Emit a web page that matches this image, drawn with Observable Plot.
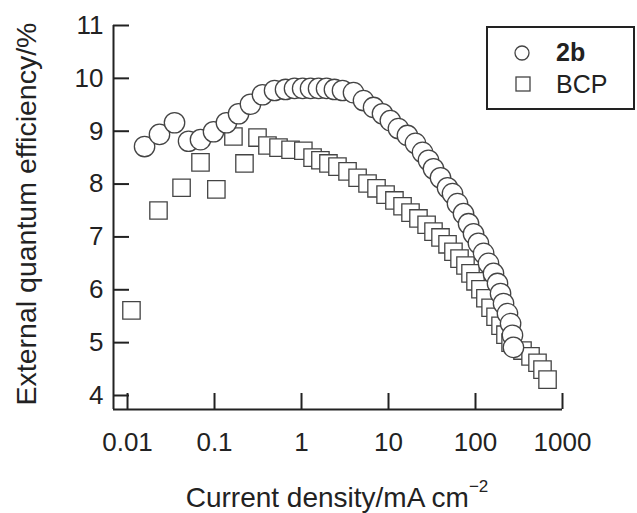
<!DOCTYPE html>
<html><head><meta charset="utf-8">
<script src="https://cdn.jsdelivr.net/npm/d3@7"></script>
<script src="https://cdn.jsdelivr.net/npm/@observablehq/plot@0.6"></script>
<style>
body{margin:0;background:#fff;}
#chart{position:relative;width:637px;height:513px;}
</style></head><body><div id="chart"></div>
<script>
const seriesNames = ["2b", "BCP"];
const x2b = [0.0157,0.0233,0.0347,0.0503,0.0690,0.0974,0.137,0.189,0.259,0.356,0.490,0.655,0.831,1.03,1.27,1.57,1.94,2.39,2.96,3.96,5.16,6.73,8.53,10.5,13.0,16.5,20.4,24.6,28.8,32.9,39.6,47.7,54.4,62.1,72.8,83.2,94.9,108,124,141,161,179,194,210,233,253,266,273];
const y2b = [8.71,8.94,9.16,8.81,8.84,8.99,9.16,9.33,9.51,9.69,9.77,9.79,9.81,9.81,9.81,9.81,9.81,9.79,9.77,9.73,9.58,9.45,9.33,9.20,9.05,8.92,8.77,8.60,8.45,8.29,8.12,7.93,7.82,7.63,7.44,7.25,7.06,6.88,6.69,6.50,6.31,6.12,5.93,5.74,5.55,5.36,5.14,4.91];
const xBCP = [0.0111,0.0227,0.0418,0.0690,0.105,0.165,0.221,0.312,0.406,0.544,0.748,1.05,1.34,1.65,2.04,2.59,3.38,4.41,5.74,7.28,9.25,11.7,14.5,17.9,22.1,27.4,32.9,39.6,47.7,55.8,65.5,76.7,87.6,100,114,130,149,170,194,221,253,347,429,516,589,673];
const yBCP = [5.61,7.50,7.93,8.41,7.90,8.90,8.39,8.88,8.73,8.69,8.65,8.63,8.50,8.45,8.39,8.33,8.24,8.12,8.01,7.92,7.80,7.69,7.58,7.46,7.35,7.23,7.10,6.99,6.86,6.72,6.59,6.46,6.31,6.16,6.01,5.84,5.66,5.49,5.32,5.15,5.00,4.85,4.74,4.62,4.49,4.30];
const xTicks = [0.01, 0.1, 1, 10, 100, 1000];
const xTickLabels = ["0.01", "0.1", "1", "10", "100", "1000"];
const yTicks = [4, 5, 6, 7, 8, 9, 10, 11];
const yTickLabels = ["4", "5", "6", "7", "8", "9", "10", "11"];
const xTitle = "Current density/mA cm";
const xTitleSup = "\u22122";
const yTitle = "External quantum efficiency/%";
const xDomain = [0.0069, 1000];
const yDomain = [3.735, 11];

const d2b = x2b.map((x, i) => ({x, y: y2b[i]}));
const dBCP = xBCP.map((x, i) => ({x, y: yBCP[i]}));
const ink = "#222";
const markInk = "#444";

const plot = Plot.plot({
  width: 637, height: 513,
  marginLeft: 113, marginRight: 75, marginTop: 25, marginBottom: 104,
  style: {fontFamily: "'Liberation Sans', Arial, sans-serif", fontSize: "26px", color: ink, background: "#fff", overflow: "visible"},
  x: {type: "log", domain: xDomain},
  y: {domain: yDomain},
  marks: [
    Plot.ruleX([xDomain[0]], {stroke: ink, strokeWidth: 2}),
    Plot.ruleY([yDomain[0]], {stroke: ink, strokeWidth: 2}),
    Plot.axisX(xTicks, {tickSize: -16, tickPadding: 39, strokeWidth: 2, stroke: ink, fill: ink, label: null,
      tickFormat: d => xTickLabels[xTicks.indexOf(d)]}),
    Plot.axisY(yTicks, {tickSize: -16, tickPadding: 26, strokeWidth: 2, stroke: ink, fill: ink, label: null,
      tickFormat: d => yTickLabels[yTicks.indexOf(d)]}),
    Plot.dot(dBCP, {x: "x", y: "y", symbol: "square", r: 9.8, stroke: markInk, strokeWidth: 1.3, fill: "white"}),
    Plot.dot(d2b, {x: "x", y: "y", symbol: "circle", r: 10.2, stroke: markInk, strokeWidth: 1.3, fill: "white"})
  ]
});
document.getElementById("chart").appendChild(plot);

const svg = d3.select(plot);
const font = "'Liberation Sans', Arial, sans-serif";
// axis titles
svg.append("text")
  .attr("transform", "translate(26,214) rotate(-90)")
  .attr("text-anchor", "middle").attr("dominant-baseline", "central")
  .attr("font-family", font).attr("font-size", 28.5).attr("fill", ink)
  .text(yTitle);
const xt = svg.append("text")
  .attr("x", 337).attr("y", 507)
  .attr("text-anchor", "middle")
  .attr("font-family", font).attr("font-size", 28).attr("fill", ink);
xt.append("tspan").text(xTitle);
xt.append("tspan").attr("dy", -15).attr("font-size", 17).text(xTitleSup);

// legend
const lg = svg.append("g").attr("text-anchor", "start");
lg.append("rect").attr("x", 487).attr("y", 27).attr("width", 147).attr("height", 82)
  .attr("fill", "white").attr("stroke", ink).attr("stroke-width", 2);
lg.append("circle").attr("cx", 522).attr("cy", 53).attr("r", 7)
  .attr("fill", "white").attr("stroke", markInk).attr("stroke-width", 1.3);
lg.append("rect").attr("x", 516).attr("y", 77).attr("width", 14).attr("height", 14)
  .attr("fill", "white").attr("stroke", markInk).attr("stroke-width", 1.3);
lg.append("text").attr("x", 556).attr("y", 61).attr("text-anchor", "start").attr("font-family", font).attr("font-size", 25)
  .attr("font-weight", "bold").attr("fill", ink).text(seriesNames[0]);
lg.append("text").attr("x", 556).attr("y", 93).attr("text-anchor", "start").attr("font-family", font).attr("font-size", 25)
  .attr("fill", ink).text(seriesNames[1]);
</script></body></html>
